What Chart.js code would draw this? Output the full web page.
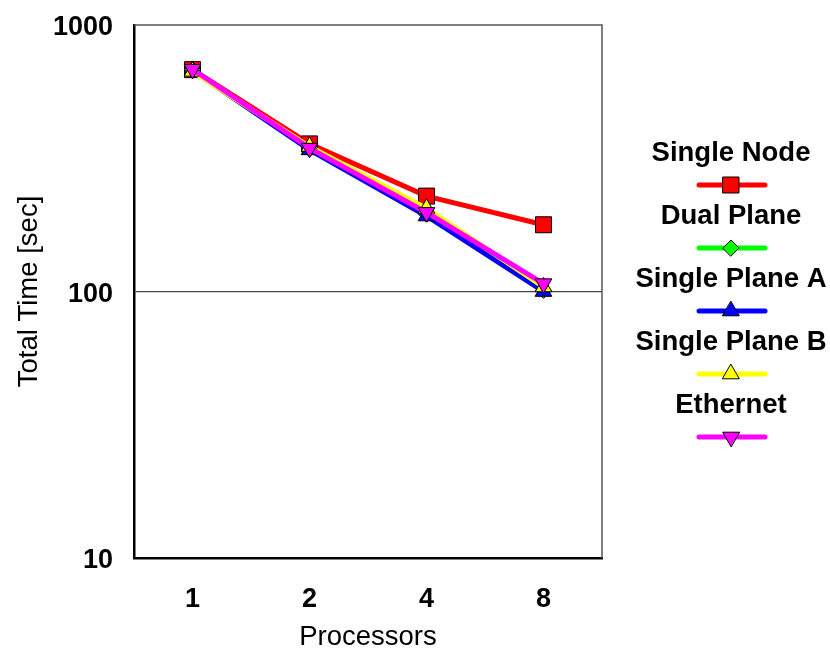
<!DOCTYPE html>
<html>
<head>
<meta charset="utf-8">
<script src="https://cdn.jsdelivr.net/npm/chart.js@4.4.1/dist/chart.umd.min.js"></script>
<style>
  html, body { margin: 0; padding: 0; background: #fff; }
  #wrap { width: 830px; height: 651px; }
</style>
</head>
<body>
<div id="wrap"><canvas id="myChart" width="830" height="651"></canvas></div>
<script>
const processors = ["1", "2", "4", "8"];
const yTicks = [10, 100, 1000];

const singleNode   = [680, 358, 228, 178];
const dualPlane    = [680, 343, 195, 101];
const singlePlaneA = [675, 340, 192, 100];
const singlePlaneB = [670, 350, 205, 104];
const ethernet     = [682, 345, 198, 107];

const fuente = "'Liberation Sans', Arial, Helvetica, sans-serif";

function serie(label, data, color, style, radius, rotation, order) {
    return {
        label: label,
        data: data,
        borderColor: color,
        backgroundColor: color,
        borderWidth: 5,
        pointStyle: style,
        pointRadius: radius,
        pointRotation: rotation,
        pointBorderColor: '#000',
        pointBorderWidth: 1,
        pointBackgroundColor: color,
        order: order
    };
}

const datasets = [
    serie("Single Node", singleNode, '#ff0000', 'rect', 11.3, 0, 5),
    serie("Dual Plane", dualPlane, '#00ff00', 'rectRot', 8, 0, 4),
    serie("Single Plane A", singlePlaneA, '#0000ff', 'triangle', 9.6, 0, 3),
    serie("Single Plane B", singlePlaneB, '#ffff00', 'triangle', 9.6, 0, 2),
    serie("Ethernet", ethernet, '#ff00ff', 'triangle', 9.6, 180, 1)
];

// marco gris arriba y a la derecha
const marco = {
    id: 'marco',
    beforeDatasetsDraw(chart) {
        const a = chart.chartArea, ctx = chart.ctx;
        ctx.save();
        ctx.strokeStyle = '#555';
        ctx.lineWidth = 1.5;
        ctx.beginPath();
        ctx.moveTo(a.left, a.top);
        ctx.lineTo(a.right, a.top);
        ctx.lineTo(a.right, a.bottom);
        ctx.stroke();
        ctx.restore();
    }
};

// leyenda a la derecha: texto centrado y muestra debajo
const leyenda = {
    id: 'leyenda',
    afterDraw(chart) {
        const ctx = chart.ctx;
        const cx = 731;
        ctx.save();
        chart.data.datasets.forEach((ds, i) => {
            const ty = 153 + i * 63.2;
            const ly = 185 + i * 63;
            ctx.fillStyle = '#000';
            ctx.font = "bold 27.5px " + fuente;
            ctx.textAlign = 'center';
            ctx.textBaseline = 'middle';
            ctx.fillText(ds.label, cx, ty);
            ctx.strokeStyle = ds.borderColor;
            ctx.lineWidth = 5;
            ctx.lineCap = 'round';
            ctx.beginPath();
            ctx.moveTo(699, ly);
            ctx.lineTo(765, ly);
            ctx.stroke();
            ctx.fillStyle = ds.pointBackgroundColor;
            ctx.strokeStyle = '#000';
            ctx.lineWidth = 1;
            Chart.helpers.drawPoint(ctx, {
                pointStyle: ds.pointStyle,
                rotation: ds.pointRotation,
                radius: ds.pointRadius,
                borderWidth: 1
            }, cx, ly);
        });
        ctx.restore();
    }
};

new Chart(document.querySelector("#myChart"), {
    type: 'line',
    data: { labels: processors, datasets: datasets },
    options: {
        responsive: false,
        animation: false,
        layout: { padding: { top: 25, right: 228, left: 0, bottom: 0 } },
        plugins: {
            legend: { display: false },
            tooltip: { enabled: false }
        },
        scales: {
            x: {
                offset: true,
                grid: { display: false, drawTicks: false },
                border: { color: '#000', width: 2.5 },
                ticks: {
                    color: '#000',
                    padding: 25,
                    font: { family: fuente, size: 27, weight: 'bold' }
                },
                title: {
                    display: true,
                    text: 'Processors',
                    color: '#000',
                    padding: 0,
                    font: { family: fuente, size: 27.5, lineHeight: 1 }
                },
                afterFit(s) { s.height = 93; s.paddingLeft = 0; s.paddingRight = 0; }
            },
            y: {
                type: 'logarithmic',
                min: 10,
                max: 1000,
                afterBuildTicks(s) { s.ticks = yTicks.map(v => ({ value: v })); },
                grid: {
                    drawTicks: false,
                    color: c => (c.tick && c.tick.value === 100) ? '#444' : 'rgba(0,0,0,0)',
                    lineWidth: 1.2
                },
                border: { color: '#000', width: 2.5 },
                ticks: {
                    color: '#000',
                    padding: 21,
                    labelOffset: 3,
                    font: { family: fuente, size: 27, weight: 'bold' },
                    callback: v => String(v)
                },
                title: {
                    display: true,
                    text: 'Total Time [sec]',
                    color: '#000',
                    padding: { top: 16, bottom: 0 },
                    font: { family: fuente, size: 27.5, lineHeight: 1 }
                },
                afterFit(s) { s.width = 134; s.paddingTop = 0; s.paddingBottom = 0; }
            }
        }
    },
    plugins: [marco, leyenda]
});
</script>
</body>
</html>
